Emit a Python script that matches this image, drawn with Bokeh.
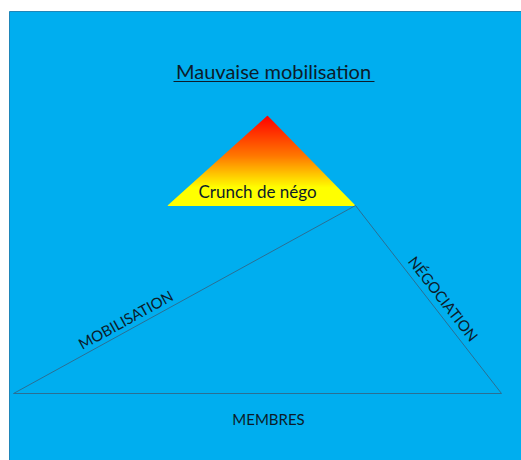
from bokeh.plotting import figure
from bokeh.models import Range1d
from bokeh.core.properties import value
from bokeh.embed import file_html
from bokeh.resources import INLINE
import numpy as np

# ---- data (picture pixel coordinates) ----
panel_x = [9, 530]
panel_y = [11, 470]
# big triangle: MEMBRES base, MOBILISATION left side, NEGOCIATION right side
big_tri_x = [13, 355, 501]
big_tri_y = [393, 205, 393]
# small "crunch" pyramid
crunch_x = [167, 267, 355]
crunch_y = [205, 115, 205]
gradient_stops = [0.0, 0.45, 0.8, 1.0]
gradient_r = [255, 255, 255, 255]
gradient_g = [0, 120, 255, 255]
gradient_b = [0, 0, 0, 0]

title_text = "Mauvaise mobilisation"
crunch_label = "Crunch de négo"
side_labels = ["MOBILISATION", "NÉGOCIATION", "MEMBRES"]
side_x = [125, 443, 268]
side_y = [319, 298, 418]
side_angle_deg = [28.8, -52.0, 0.0]

TEXT = "#0c1c2a"
FONT = "Lato"

p = figure(width=521, height=460, output_backend="svg", toolbar_location=None,
           x_range=Range1d(0, 521), y_range=Range1d(460, 0),
           min_border=0, min_border_left=0, min_border_right=0,
           min_border_top=0, min_border_bottom=0)
p.axis.visible = False
p.grid.visible = False
p.outline_line_color = None
p.background_fill_color = "white"
p.border_fill_color = "white"

# blue panel
p.quad(left=panel_x[0], right=panel_x[1], top=panel_y[0], bottom=panel_y[1],
       fill_color="#00AEEF", line_color="#1f86b8", line_width=1)

# gradient pyramid via thin horizontal strips
apex_y = crunch_y[1]
base_y = crunch_y[0]
n = 90
xs, ys, cols = [], [], []
def edges(yy):
    f = (yy - apex_y) / (base_y - apex_y)
    return (crunch_x[1] + (crunch_x[0] - crunch_x[1]) * f,
            crunch_x[1] + (crunch_x[2] - crunch_x[1]) * f)
for i in range(n):
    y0 = apex_y + (base_y - apex_y) * i / n
    y1 = apex_y + (base_y - apex_y) * (i + 1) / n
    l0, r0 = edges(y0)
    l1, r1 = edges(y1)
    xs.append([l0, r0, r1, l1])
    ys.append([y0, y0, y1 + 0.6, y1 + 0.6])
    t = (i + 0.5) / n
    r = int(np.interp(t, gradient_stops, gradient_r))
    g = int(np.interp(t, gradient_stops, gradient_g))
    b = int(np.interp(t, gradient_stops, gradient_b))
    cols.append("#%02x%02x%02x" % (r, g, b))
p.patches(xs, ys, fill_color=cols, line_color=None)

# big triangle outline
p.line(big_tri_x + [big_tri_x[0]], big_tri_y + [big_tri_y[0]],
       line_color="#2b6f93", line_width=1)

# title + underline
p.text(x=[273], y=[70], text=[title_text], text_font=value(FONT),
       text_font_size="20px", text_color=TEXT,
       text_align="center", text_baseline="middle")
p.segment(x0=[173], y0=[81], x1=[374], y1=[81], line_color=TEXT, line_width=1.2)

# crunch label
p.text(x=[257], y=[191], text=[crunch_label], text_font=value(FONT),
       text_font_size="17px", text_color=TEXT,
       text_align="center", text_baseline="middle")

# side labels
p.text(x=side_x, y=side_y, text=side_labels, angle=side_angle_deg, angle_units="deg",
       text_font=value(FONT), text_font_size="15px", text_color=TEXT,
       text_align="center", text_baseline="middle")

open("out.html", "w").write(file_html(p, INLINE))
